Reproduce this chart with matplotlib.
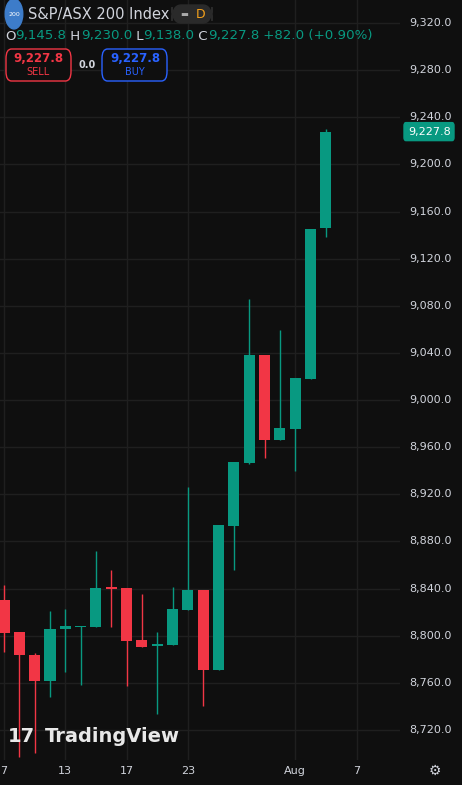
import matplotlib
matplotlib.use("Agg")
import matplotlib.pyplot as plt
from matplotlib.patches import FancyBboxPatch, Circle

opens  = [8830, 8803, 8784, 8761.6, 8806, 8807.5, 8807.6, 8841, 8840.5, 8796.3, 8791, 8792, 8822, 8839, 8771, 8893.1, 8946.6, 9038, 8966, 8975.5, 9018, 9145.8]
highs  = [8843, 8803, 8785, 8821, 8822.7, 8808.5, 8872, 8855.8, 8840.5, 8835.4, 8803, 8841, 8926.2, 8839, 8894, 8947.4, 9085.8, 9038, 9059.4, 9019, 9145.2, 9230.0]
lows   = [8786.4, 8697, 8700.5, 8748, 8769.5, 8758, 8807, 8807.6, 8757.6, 8790, 8733.3, 8792, 8822, 8740.6, 8771, 8855.8, 8946, 8950.8, 8966, 8940, 9018, 9138.0]
closes = [8802.6, 8783.6, 8761.6, 8805.7, 8808.2, 8808, 8840.5, 8840, 8795.8, 8790.7, 8793, 8822.6, 8838.8, 8771.2, 8894, 8947.4, 9038.2, 8966, 8976.3, 9018.7, 9145.2, 9227.8]
date_pos = [0, 4, 8, 12, 19, 23]
date_labels = ["7", "13", "17", "23", "Aug", "7"]
price_ticks = list(range(8720, 9321, 40))

BG = "#0f0f0f"; GREEN = "#089981"; RED = "#f23645"; TXT = "#d1d4dc"; GRID = "#1f1f1f"

fig = plt.figure(figsize=(4.62, 7.85), dpi=100, facecolor=BG)
ax = fig.add_axes([0, 25/785, 400/462, 760/785])
ax.set_facecolor(BG)
ax.set_xlim(-0.26, 25.83)
ax.set_ylim(8694.5, 9339.5)
for p in price_ticks:
    ax.axhline(p, color=GRID, lw=1, zorder=0)
for d in date_pos:
    ax.axvline(d, color=GRID, lw=1, zorder=0)
for i, (o, h, l, c) in enumerate(zip(opens, highs, lows, closes)):
    col = GREEN if c >= o else RED
    ax.vlines(i, l, h, color=col, lw=1, zorder=2)
    bot = min(o, c); ht = max(abs(c - o), 0.9)
    ax.bar(i, ht, bottom=bot, width=0.72, color=col, zorder=3)
for s in ax.spines.values():
    s.set_visible(False)
ax.set_xticks([]); ax.set_yticks([])

for p in price_ticks:
    y = 25/785 + (p - 8694.5) / (9339.5 - 8694.5) * 760/785
    fig.text(409/462, y, f"{p:,.1f}", color=TXT, fontsize=8, va="center", ha="left")
yl = 25/785 + (closes[-1] - 8694.5) / (9339.5 - 8694.5) * 760/785
fig.patches.append(FancyBboxPatch((404/462, yl - 9/785), 50/462, 18/785, boxstyle="round,pad=0,rounding_size=0.004",
                                  transform=fig.transFigure, color=GREEN))
fig.text(408/462, yl, f"{closes[-1]:,.1f}", color="white", fontsize=8, va="center", ha="left")

for d, lab in zip(date_pos, date_labels):
    x = (d + 0.26) / (25.83 + 0.26) * 400/462
    fig.text(x, 14/785, lab, color=TXT, fontsize=8, ha="center", va="center")
fig.text(435/462, 14/785, "⚙", color=TXT, fontsize=10, ha="center", va="center")

fig.patches.append(Circle((14/462, 1 - 14/785), 0.019, transform=fig.transFigure, color="#3d7cc9"))
fig.text(14/462, 1 - 14/785, "200", color="white", fontsize=4.5, ha="center", va="center")
fig.text(28/462, 1 - 14/785, "S&P/ASX 200 Index", color=TXT, fontsize=10.5, va="center")
fig.patches.append(FancyBboxPatch((172/462, 1 - 23/785), 40/462, 18/785, boxstyle="round,pad=0,rounding_size=0.02",
                                  transform=fig.transFigure, color="#2a2a2a"))
fig.text(201/462, 1 - 14/785, "D", color="#f7a21b", fontsize=9, ha="center", va="center")
fig.text(184/462, 1 - 14/785, "▬", color="#aaaaaa", fontsize=6, ha="center", va="center")
hx = 5/462; hy = 1 - 36/785
parts = [("O", TXT), ("9,145.8", GREEN), (" H", TXT), ("9,230.0", GREEN), (" L", TXT), ("9,138.0", GREEN),
         (" C", TXT), ("9,227.8", GREEN), (" +82.0 (+0.90%)", GREEN)]
r = fig.canvas.get_renderer()
x = hx
for s, c in parts:
    t = fig.text(x, hy, s, color=c, fontsize=9.6, va="center")
    w = t.get_window_extent(renderer=r).width
    x += w / (4.62 * 100)
fig.patches.append(FancyBboxPatch((6/462, 1 - 81/785), 65/462, 32/785, boxstyle="round,pad=0,rounding_size=0.012",
                                  transform=fig.transFigure, facecolor=BG, edgecolor=RED, lw=1))
fig.text(38/462, 1 - 58/785, "9,227.8", color=RED, fontsize=8.5, ha="center", va="center", fontweight="bold")
fig.text(38/462, 1 - 72/785, "SELL", color=RED, fontsize=7, ha="center", va="center")
fig.text(87/462, 1 - 65/785, "0.0", color=TXT, fontsize=7, ha="center", va="center", fontweight="bold")
fig.patches.append(FancyBboxPatch((102/462, 1 - 81/785), 65/462, 32/785, boxstyle="round,pad=0,rounding_size=0.012",
                                  transform=fig.transFigure, facecolor=BG, edgecolor="#2962ff", lw=1))
fig.text(135/462, 1 - 58/785, "9,227.8", color="#2962ff", fontsize=8.5, ha="center", va="center", fontweight="bold")
fig.text(135/462, 1 - 72/785, "BUY", color="#2962ff", fontsize=7, ha="center", va="center")

fig.text(8/462, 1 - 737/785, "17", color="#e8e8e8", fontsize=14, va="center", fontweight="black")
fig.text(45/462, 1 - 737/785, "TradingView", color="#e8e8e8", fontsize=14, va="center", fontweight="bold")

fig.savefig("out.png", dpi=100, facecolor=BG)
